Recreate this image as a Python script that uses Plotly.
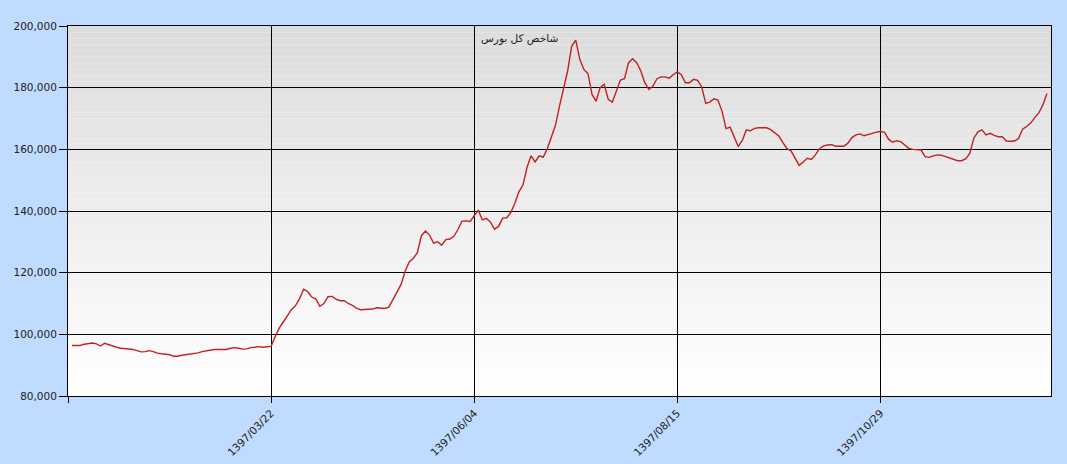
import plotly.graph_objects as go

# Trading-day index (1..241) and index values (in points)
day_index = list(range(1, 242))
index_values_k = [
    96.4, 96.4, 96.4, 96.8, 97.1, 97.2, 96.9, 96.2, 97.1, 96.6,
    96.1, 95.8, 95.5, 95.4, 95.4, 95.1, 94.7, 94.3, 94.4, 94.7,
    94.4, 93.9, 93.7, 93.5, 93.4, 92.9, 92.9, 93.2, 93.4, 93.5,
    93.7, 94.0, 94.4, 94.7, 94.8, 95.1, 95.1, 95.1, 95.1, 95.5,
    95.7, 95.5, 95.2, 95.3, 95.7, 95.8, 96.0, 95.8, 95.9, 96.1,
    99.2, 102.0, 104.0, 106.0, 108.0, 109.3, 111.5, 114.6, 113.9, 112.1,
    111.5, 109.1, 110.0, 112.2, 112.3, 111.4, 110.9, 110.9, 110.0, 109.4,
    108.5, 108.0, 108.1, 108.0, 108.2, 108.6, 108.6, 108.4, 108.8, 111.3,
    113.4, 116.2, 120.5, 123.5, 124.6, 126.5, 132.0, 133.5, 132.2, 129.6,
    130.0, 128.9, 130.7, 130.9, 131.8, 134.0, 136.7, 136.8, 136.6, 138.4,
    140.3, 137.1, 137.6, 136.4, 134.1, 135.0, 137.7, 137.8, 139.5, 142.4,
    146.2, 148.4, 154.1, 157.9, 155.9, 157.9, 157.5, 160.2, 163.8, 167.8,
    174.0, 179.4, 185.4, 193.5, 195.4, 189.2, 185.9, 184.6, 177.8, 175.6,
    180.0, 181.1, 176.2, 175.3, 179.2, 182.5, 182.9, 188.1, 189.4, 188.1,
    185.5, 181.6, 179.4, 180.5, 182.9, 183.5, 183.5, 183.1, 184.2, 185.1,
    184.2, 181.6, 181.6, 182.7, 182.4, 180.3, 174.9, 175.3, 176.4, 176.0,
    172.4, 166.7, 167.2, 164.3, 160.9, 162.9, 166.3, 166.0, 166.8, 167.0,
    167.0, 167.0, 166.4, 165.4, 164.3, 162.2, 160.2, 159.5, 157.3, 154.8,
    155.9, 157.1, 156.7, 158.2, 160.2, 161.1, 161.4, 161.5, 161.0, 161.0,
    161.0, 162.0, 163.8, 164.7, 165.0, 164.4, 164.7, 165.2, 165.6, 165.8,
    165.6, 163.3, 162.3, 162.8, 162.5, 161.5, 160.3, 160.0, 160.0, 159.8,
    157.6, 157.4, 157.9, 158.2, 158.1, 157.7, 157.1, 156.9, 156.3, 156.3,
    156.9, 158.7, 163.6, 165.7, 166.3, 164.7, 165.2, 164.5, 164.1, 164.1,
    162.7, 162.6, 162.7, 163.5, 166.5, 167.4, 168.5, 170.3, 171.8, 174.4,
    178.1,
]
index_values = [v * 1000 for v in index_values_k]

tick_positions = [0, 50, 100, 150, 200]
tick_labels = ["", "1397/03/22", "1397/06/04", "1397/08/15", "1397/10/29"]
y_ticks = [80000, 100000, 120000, 140000, 160000, 180000, 200000]
title_text = "شاخص کل بورس"

fig = go.Figure()
fig.add_trace(go.Scatter(
    x=day_index, y=index_values, mode="lines",
    line=dict(color="#C42020", width=1.4),
    hoverinfo="skip", showlegend=False,
))

# vertical gradient background for plot area (top gray -> bottom white)
shapes = []
bands = 60
for k in range(bands):
    t = k / (bands - 1)
    g = int(round(220 + (255 - 220) * t))
    y1 = 1 - k / bands
    y0 = 1 - (k + 1) / bands
    shapes.append(dict(
        type="rect", xref="paper", yref="paper", x0=0, x1=1, y0=y0, y1=y1,
        fillcolor=f"rgb({g},{g},{g})", line=dict(width=0), layer="below",
    ))

fig.update_layout(
    width=1067, height=464,
    margin=dict(l=68, r=16, t=26, b=68, autoexpand=False),
    paper_bgcolor="#BFDBFF",
    plot_bgcolor="#FFFFFF",
    shapes=shapes,
    font=dict(family="DejaVu Sans", size=10.5, color="#222222"),
    annotations=[dict(
        text=title_text, xref="paper", yref="paper", x=0.5, y=0.967,
        xanchor="right", yanchor="middle", showarrow=False,
        font=dict(family="DejaVu Sans", size=10.5, color="#222222"),
    )],
)
fig.update_xaxes(
    range=[0, 242], tickmode="array", tickvals=tick_positions, ticktext=tick_labels,
    tickangle=-45, ticks="outside", ticklen=6, tickcolor="black", automargin=False,
    showgrid=True, gridcolor="black", gridwidth=1,
    showline=True, linecolor="black", linewidth=1, mirror=True, zeroline=False,
)
fig.update_yaxes(
    range=[80000, 200000], tickmode="array", tickvals=y_ticks, tickformat=",",
    ticks="outside", ticklen=8, tickcolor="black", automargin=False,
    showgrid=True, gridcolor="black", gridwidth=1,
    showline=True, linecolor="black", linewidth=1, mirror=True, zeroline=False,
)

fig.write_html(
    "out.html",
    config={"displayModeBar": False},
    post_script="document.body.style.margin='0';document.body.style.background='#BFDBFF';",
)
